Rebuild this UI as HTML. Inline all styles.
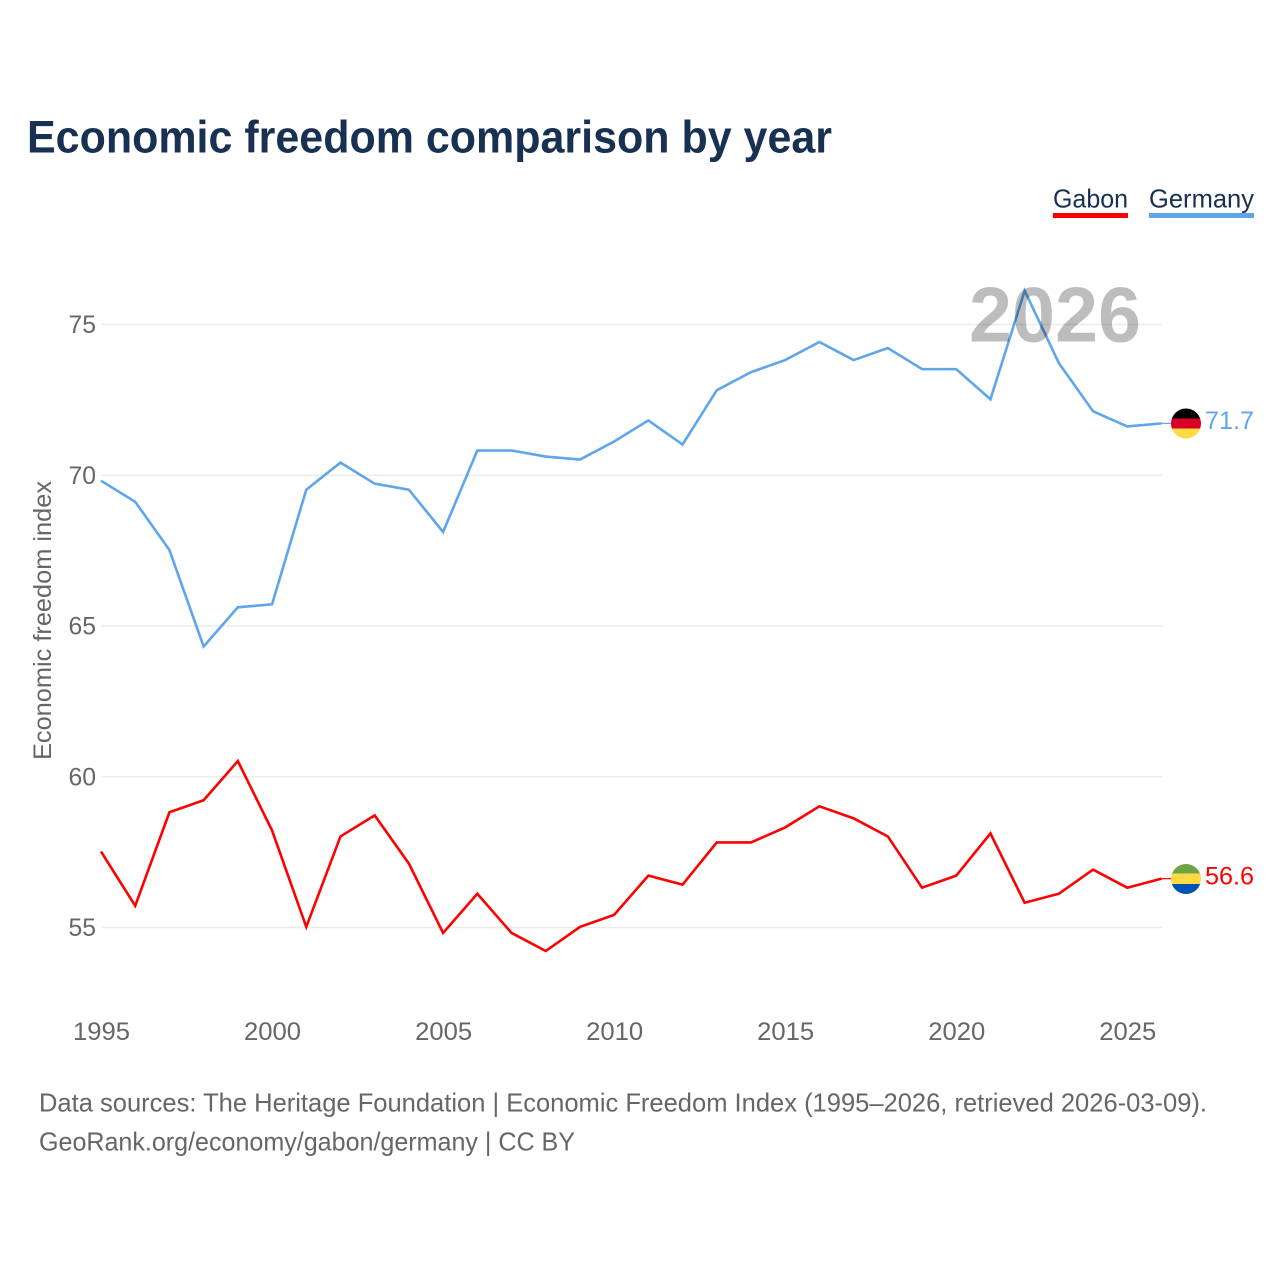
<!DOCTYPE html>
<html lang="en">
<head>
<meta charset="utf-8">
<title>Economic freedom comparison by year</title>
<style>
html,body{margin:0;padding:0;background:#fff;}
svg{display:block;font-family:"Liberation Sans",sans-serif;}
</style>
</head>
<body>
<svg id="chart" width="1280" height="1280" viewBox="0 0 1280 1280" xmlns="http://www.w3.org/2000/svg">
  <defs>
    <clipPath id="flag-clip-de"><circle cx="1186" cy="423.5" r="15"></circle></clipPath>
    <clipPath id="flag-clip-ga"><circle cx="1186" cy="879" r="15"></circle></clipPath>
  </defs>
  <rect width="1280" height="1280" fill="#ffffff"></rect>
  <text x="27" y="152.5" font-size="45" font-weight="700" fill="#183153" textLength="805" lengthAdjust="spacingAndGlyphs">Economic freedom comparison by year</text>

  <g>
    <g>
      <text x="1053" y="207.5" font-size="26" fill="#183153" textLength="75" lengthAdjust="spacingAndGlyphs">Gabon</text>
      <rect x="1053" y="213" width="75" height="5" fill="#ff0000"></rect>
    </g>
    <g>
      <text x="1149" y="207.5" font-size="26" fill="#183153" textLength="105" lengthAdjust="spacingAndGlyphs">Germany</text>
      <rect x="1149" y="213" width="105" height="5" fill="#5fa5ec"></rect>
    </g>
  </g>

  <g id="grid"></g>
  <g id="y-ticks"></g>
  <g id="x-ticks"></g>
  <text transform="translate(51,760) rotate(-90)" x="0" y="0" font-size="25" fill="#666666" textLength="279" lengthAdjust="spacingAndGlyphs">Economic freedom index</text>

  <g id="series" transform="translate(-0.5,-0.6)"></g>

  <text x="969" y="341.5" font-size="78" font-weight="700" fill="#000000" fill-opacity="0.26" textLength="172" lengthAdjust="spacingAndGlyphs">2026</text>

  <g clip-path="url(#flag-clip-de)">
    <rect x="1171" y="408" width="30" height="11" fill="#000000"></rect>
    <rect x="1171" y="418.5" width="30" height="10" fill="#d80027"></rect>
    <rect x="1171" y="428.5" width="30" height="11" fill="#ffda44"></rect>
  </g>
  <g clip-path="url(#flag-clip-ga)">
    <rect x="1171" y="864" width="30" height="10" fill="#6da544"></rect>
    <rect x="1171" y="873.5" width="30" height="11" fill="#ffda44"></rect>
    <rect x="1171" y="884" width="30" height="11" fill="#0052b4"></rect>
  </g>
  <g id="end-labels"></g>

  <text x="39" y="1111.5" font-size="26" fill="#666666" textLength="1168" lengthAdjust="spacingAndGlyphs">Data sources: The Heritage Foundation | Economic Freedom Index (1995–2026, retrieved 2026-03-09).</text>
  <text x="39" y="1150.5" font-size="26" fill="#666666" textLength="536" lengthAdjust="spacingAndGlyphs">GeoRank.org/economy/gabon/germany | CC BY</text>
</svg>
<script>
const years = [1995,1996,1997,1998,1999,2000,2001,2002,2003,2004,2005,2006,2007,2008,2009,2010,2011,2012,2013,2014,2015,2016,2017,2018,2019,2020,2021,2022,2023,2024,2025,2026];
const germanyValues = [69.8,69.1,67.5,64.3,65.6,65.7,69.5,70.4,69.7,69.5,68.1,70.8,70.8,70.6,70.5,71.1,71.8,71.0,72.8,73.4,73.8,74.4,73.8,74.2,73.5,73.5,72.5,76.1,73.7,72.1,71.6,71.7];
const gabonValues = [57.5,55.7,58.8,59.2,60.5,58.2,55.0,58.0,58.7,57.1,54.8,56.1,54.8,54.2,55.0,55.4,56.7,56.4,57.8,57.8,58.3,59.0,58.6,58.0,56.3,56.7,58.1,55.8,56.1,56.9,56.3,56.6];
const yTickValues = [55,60,65,70,75];
const xTickValues = [1995,2000,2005,2010,2015,2020,2025];

const NS = 'http://www.w3.org/2000/svg';
const xScale = y => 101.5 + (y - 1995) * (1162 - 101.5) / 31;
const yScale = v => 927.5 - (v - 55) * (927.5 - 324.5) / 20;

function make(tag, parent, attrs, text) {
  const el = document.createElementNS(NS, tag);
  for (const k in attrs) el.setAttribute(k, attrs[k]);
  if (text !== undefined) el.textContent = text;
  parent.appendChild(el);
  return el;
}

const gridG = document.getElementById('grid');
const yTicksG = document.getElementById('y-ticks');
const xTicksG = document.getElementById('x-ticks');
const seriesG = document.getElementById('series');
const endG = document.getElementById('end-labels');

yTickValues.forEach(v => {
  const line = make('line', gridG, {x1: 101, x2: 1162, y1: yScale(v), y2: yScale(v), stroke: '#ececec', 'stroke-width': 1.6});
  
  
  const label = make('text', yTicksG, {x: 68.5, y: yScale(v) + 8.5, 'font-size': 25, fill: '#666666', textLength: 27.5, lengthAdjust: 'spacingAndGlyphs'}, String(v));
  
  
});

xTickValues.forEach(y => {
  const label = make('text', xTicksG, {x: xScale(y) - 28.5, y: 1040, 'font-size': 25, fill: '#666666', textLength: 57, lengthAdjust: 'spacingAndGlyphs'}, String(y));
  
  
});

function drawSeries(key, values, color) {
  const pts = values.map((v, i) => xScale(years[i]).toFixed(2) + ',' + yScale(v).toFixed(2)).join(' ');
  const line = make('polyline', seriesG, {points: pts, fill: 'none', stroke: color, 'stroke-width': 2.6, 'stroke-linejoin': 'miter'});
  
  

  const last = values[values.length - 1];
  const yEnd = yScale(last);
  const lead = make('line', seriesG, {x1: 1162, x2: 1172, y1: yEnd, y2: yEnd, stroke: color, 'stroke-width': 1.2});
  
  

  const label = make('text', endG, {x: 1205, y: yEnd + 5, 'font-size': 25, fill: color, textLength: 49, lengthAdjust: 'spacingAndGlyphs'}, last.toFixed(1));
  
  
}

drawSeries('gabon', gabonValues, '#ff0000');
drawSeries('germany', germanyValues, '#5fa5ec');
</script>
</body>
</html>
